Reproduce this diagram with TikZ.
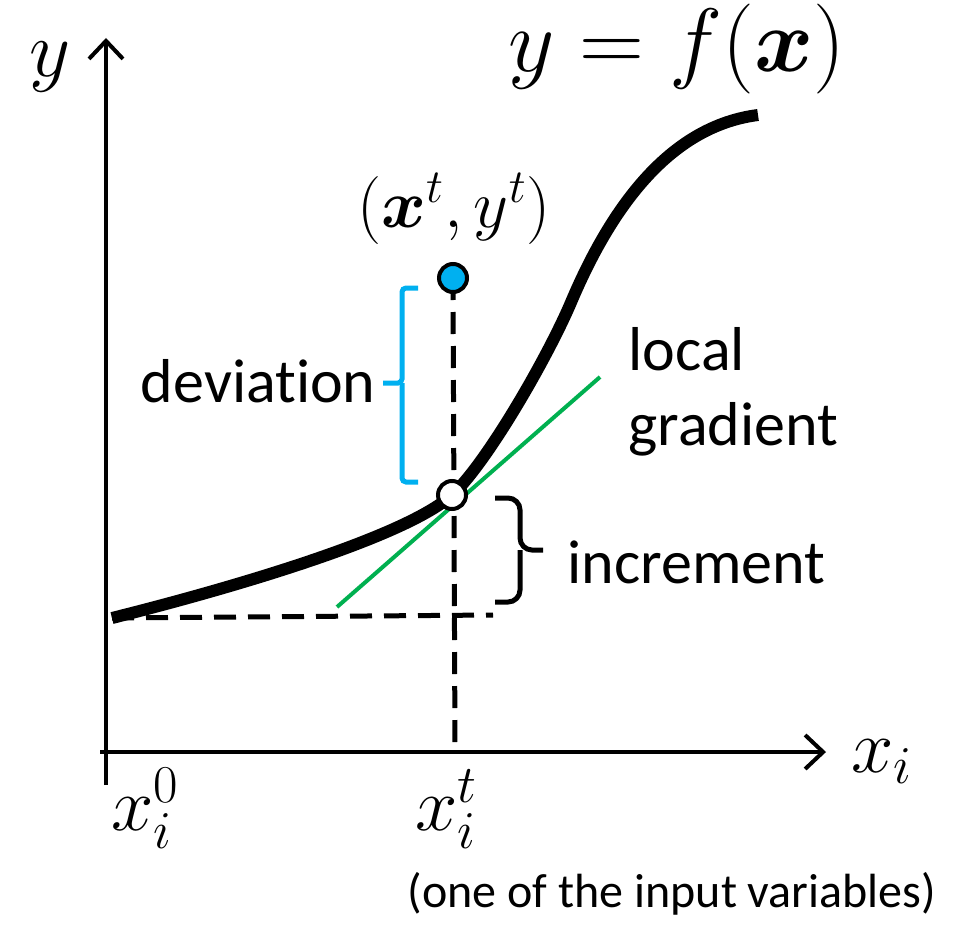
\RequirePackage{fix-cm}
\documentclass[tikz,border=0pt]{standalone}
\usepackage{amsmath}
\usepackage{fontspec}
\setmainfont{Carlito}[Ligatures=NoCommon]
\usetikzlibrary{arrows.meta}
\definecolor{devblue}{HTML}{00B0F0}
\definecolor{gradgreen}{HTML}{00B050}

\begin{document}
\begin{tikzpicture}[x=0.5pt,y=-0.5pt,
	axis/.style={line width=2pt,-{Straight Barb[length=9pt,width=17pt]}},
	guide/.style={line width=2.5pt,dash pattern=on 11pt off 6pt},
	word/.style={inner sep=0pt,font=\fontsize{31}{37}\selectfont},
	sym/.style={inner sep=0pt,font=\fontsize{38}{46}\selectfont},
	dot/.style={circle,draw=black,line width=2pt,minimum size=14pt,inner sep=0pt}]
		\useasboundingbox (0,0) rectangle (961,925);
		\coordinate (ybot) at (106,785);
		\coordinate (ytop) at (106,38);
		\coordinate (xleft) at (100,752);
		\coordinate (xright) at (826,752);
		\coordinate (p0) at (112,618);
		\coordinate (pt) at (452,495);
		\coordinate (yt) at (453,278);
		\coordinate (xt) at (455,752);
		\coordinate (inc) at (493,615);
		\coordinate (g1) at (337,607);
		\coordinate (g2) at (600,377);
		\draw[axis] (ybot) -- (ytop);
		\draw[axis] (xleft) -- (xright);
		\draw[guide] (p0) -- (inc);
		\draw[guide] (yt) -- (xt);
		\draw[gradgreen, line width=2pt] (g1) -- (g2);
		\draw[line width=6pt] (p0) .. controls (212,593) and (402,540) .. (pt)
			.. controls (487,463) and (549,355) .. (572,300)
			.. controls (619,190) and (680,125) .. (758,115);
		\node[dot, fill=white] (ptdot) at (pt) {};
		\node[dot, fill=devblue] (ytdot) at (yt) {};
		\draw[devblue, line width=2.5pt, rounded corners=2pt] (418,288) -| (402,383) -- (383,383);
		\draw[devblue, line width=2.5pt, rounded corners=2pt] (402,383) |- (418,482);
		\draw[line width=2.5pt, rounded corners=6pt] (495,498) -| (520,550) -- (543,550);
		\draw[line width=2.5pt, rounded corners=6pt] (520,550) |- (495,602);
		\node[inner sep=0pt, anchor=base, font=\fontsize{40}{48}\selectfont] (ylab) at (50,77) {$y$};
		\node[inner sep=0pt, anchor=base, font=\fontsize{45}{54}\selectfont] (flab) at (677,72) {$y = f(\boldsymbol{x})$};
		\node[inner sep=0pt, anchor=base, font=\fontsize{34}{40}\selectfont] (ptlab) at (454,227) {$(\boldsymbol{x}^t, y^t)$};
		\node[sym, anchor=base west] (x0lab) at (111,830) {$x_i^0$};
		\node[sym, anchor=base west] (xtlab) at (415,830) {$x_i^t$};
		\node[sym, anchor=base west] (xilab) at (851,772) {$x_i$};
		\node[word, anchor=base east] (devlab) at (376,402) {deviation};
		\node[word, anchor=base west] (inclab) at (567,583) {increment};
		\node[word, anchor=base west] (gradlab) at (628,370) {local};
		\node[word, anchor=base west] (gradlab2) at (628,445) {gradient};
		\node[inner sep=0pt, anchor=base, font=\fontsize{24}{29}\selectfont] (notelab) at (672,907) {(one of the input variables)};
	\end{tikzpicture}
\end{document}
